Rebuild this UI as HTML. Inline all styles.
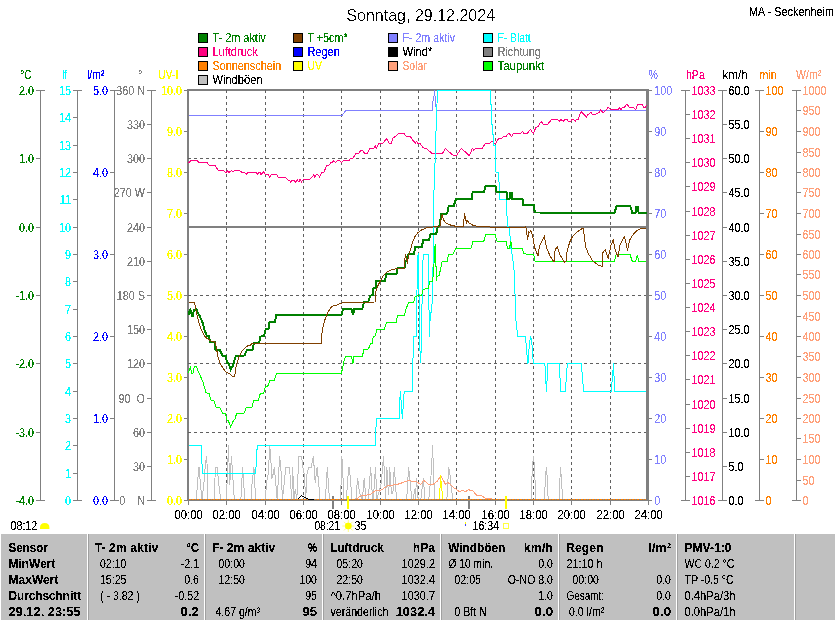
<!DOCTYPE html>
<html lang="de"><head><meta charset="utf-8"><title>Sonntag, 29.12.2024 - MA - Seckenheim</title>
<style>html,body{margin:0;padding:0;background:#fff;overflow:hidden}svg{display:block;font-family:"Liberation Sans",sans-serif}.c{shape-rendering:crispEdges}</style></head><body>
<svg width="835" height="620" viewBox="0 0 835 620">
<rect width="835" height="620" fill="#fff"/>
<defs><filter id="t" filterUnits="userSpaceOnUse" x="0" y="0" width="835" height="620" color-interpolation-filters="sRGB"><feComponentTransfer><feFuncA type="discrete" tableValues="0 0 1 1 1"/></feComponentTransfer></filter><filter id="t2" filterUnits="userSpaceOnUse" x="0" y="0" width="835" height="30" color-interpolation-filters="sRGB"><feComponentTransfer><feFuncA type="discrete" tableValues="0 0 0 1 1"/></feComponentTransfer></filter></defs>
<g class="c">
<rect x="198" y="33" width="10" height="10" fill="#000"/>
<rect x="199" y="34" width="8" height="8" fill="#008000"/>
<rect x="198" y="47" width="10" height="10" fill="#000"/>
<rect x="199" y="48" width="8" height="8" fill="#ff0080"/>
<rect x="198" y="61" width="10" height="10" fill="#000"/>
<rect x="199" y="62" width="8" height="8" fill="#ff8000"/>
<rect x="198" y="75" width="10" height="10" fill="#000"/>
<rect x="199" y="76" width="8" height="8" fill="#c0c0c0"/>
<rect x="293" y="33" width="10" height="10" fill="#000"/>
<rect x="294" y="34" width="8" height="8" fill="#804000"/>
<rect x="293" y="47" width="10" height="10" fill="#000"/>
<rect x="294" y="48" width="8" height="8" fill="#0000ff"/>
<rect x="293" y="61" width="10" height="10" fill="#000"/>
<rect x="294" y="62" width="8" height="8" fill="#ffff00"/>
<rect x="388" y="33" width="10" height="10" fill="#000"/>
<rect x="389" y="34" width="8" height="8" fill="#8080ff"/>
<rect x="388" y="47" width="10" height="10" fill="#000"/>
<rect x="389" y="48" width="8" height="8" fill="#000000"/>
<rect x="388" y="61" width="10" height="10" fill="#000"/>
<rect x="389" y="62" width="8" height="8" fill="#ffa07a"/>
<rect x="483" y="33" width="10" height="10" fill="#000"/>
<rect x="484" y="34" width="8" height="8" fill="#00ffff"/>
<rect x="483" y="47" width="10" height="10" fill="#000"/>
<rect x="484" y="48" width="8" height="8" fill="#808080"/>
<rect x="483" y="61" width="10" height="10" fill="#000"/>
<rect x="484" y="62" width="8" height="8" fill="#00ff00"/>
</g>
<g class="c">
<rect x="40" y="90" width="1" height="411" fill="#808080"/>
<rect x="36" y="90" width="9" height="1" fill="#808080"/>
<rect x="36" y="158" width="5" height="1" fill="#808080"/>
<rect x="36" y="227" width="5" height="1" fill="#808080"/>
<rect x="36" y="295" width="5" height="1" fill="#808080"/>
<rect x="36" y="363" width="5" height="1" fill="#808080"/>
<rect x="36" y="432" width="5" height="1" fill="#808080"/>
<rect x="36" y="500" width="9" height="1" fill="#808080"/>
</g>
<g class="c">
<rect x="77" y="90" width="1" height="411" fill="#808080"/>
<rect x="73" y="90" width="9" height="1" fill="#808080"/>
<rect x="73" y="117" width="5" height="1" fill="#808080"/>
<rect x="73" y="145" width="5" height="1" fill="#808080"/>
<rect x="73" y="172" width="5" height="1" fill="#808080"/>
<rect x="73" y="199" width="5" height="1" fill="#808080"/>
<rect x="73" y="227" width="5" height="1" fill="#808080"/>
<rect x="73" y="254" width="5" height="1" fill="#808080"/>
<rect x="73" y="281" width="5" height="1" fill="#808080"/>
<rect x="73" y="309" width="5" height="1" fill="#808080"/>
<rect x="73" y="336" width="5" height="1" fill="#808080"/>
<rect x="73" y="363" width="5" height="1" fill="#808080"/>
<rect x="73" y="391" width="5" height="1" fill="#808080"/>
<rect x="73" y="418" width="5" height="1" fill="#808080"/>
<rect x="73" y="445" width="5" height="1" fill="#808080"/>
<rect x="73" y="473" width="5" height="1" fill="#808080"/>
<rect x="73" y="500" width="9" height="1" fill="#808080"/>
</g>
<g class="c">
<rect x="114" y="90" width="1" height="411" fill="#808080"/>
<rect x="110" y="90" width="9" height="1" fill="#808080"/>
<rect x="110" y="172" width="5" height="1" fill="#808080"/>
<rect x="110" y="254" width="5" height="1" fill="#808080"/>
<rect x="110" y="336" width="5" height="1" fill="#808080"/>
<rect x="110" y="418" width="5" height="1" fill="#808080"/>
<rect x="110" y="500" width="9" height="1" fill="#808080"/>
</g>
<g class="c">
<rect x="151" y="90" width="1" height="411" fill="#808080"/>
<rect x="147" y="90" width="9" height="1" fill="#808080"/>
<rect x="147" y="124" width="5" height="1" fill="#808080"/>
<rect x="147" y="158" width="5" height="1" fill="#808080"/>
<rect x="147" y="192" width="5" height="1" fill="#808080"/>
<rect x="147" y="227" width="5" height="1" fill="#808080"/>
<rect x="147" y="261" width="5" height="1" fill="#808080"/>
<rect x="147" y="295" width="5" height="1" fill="#808080"/>
<rect x="147" y="329" width="5" height="1" fill="#808080"/>
<rect x="147" y="363" width="5" height="1" fill="#808080"/>
<rect x="147" y="398" width="5" height="1" fill="#808080"/>
<rect x="147" y="432" width="5" height="1" fill="#808080"/>
<rect x="147" y="466" width="5" height="1" fill="#808080"/>
<rect x="147" y="500" width="9" height="1" fill="#808080"/>
</g>
<g class="c">
<rect x="685" y="90" width="1" height="411" fill="#808080"/>
<rect x="681" y="90" width="9" height="1" fill="#808080"/>
<rect x="685" y="114" width="5" height="1" fill="#808080"/>
<rect x="685" y="138" width="5" height="1" fill="#808080"/>
<rect x="685" y="162" width="5" height="1" fill="#808080"/>
<rect x="685" y="186" width="5" height="1" fill="#808080"/>
<rect x="685" y="211" width="5" height="1" fill="#808080"/>
<rect x="685" y="235" width="5" height="1" fill="#808080"/>
<rect x="685" y="259" width="5" height="1" fill="#808080"/>
<rect x="685" y="283" width="5" height="1" fill="#808080"/>
<rect x="685" y="307" width="5" height="1" fill="#808080"/>
<rect x="685" y="331" width="5" height="1" fill="#808080"/>
<rect x="685" y="355" width="5" height="1" fill="#808080"/>
<rect x="685" y="379" width="5" height="1" fill="#808080"/>
<rect x="685" y="404" width="5" height="1" fill="#808080"/>
<rect x="685" y="428" width="5" height="1" fill="#808080"/>
<rect x="685" y="452" width="5" height="1" fill="#808080"/>
<rect x="685" y="476" width="5" height="1" fill="#808080"/>
<rect x="681" y="500" width="9" height="1" fill="#808080"/>
</g>
<g class="c">
<rect x="722" y="90" width="1" height="411" fill="#808080"/>
<rect x="718" y="90" width="9" height="1" fill="#808080"/>
<rect x="722" y="124" width="5" height="1" fill="#808080"/>
<rect x="722" y="158" width="5" height="1" fill="#808080"/>
<rect x="722" y="192" width="5" height="1" fill="#808080"/>
<rect x="722" y="227" width="5" height="1" fill="#808080"/>
<rect x="722" y="261" width="5" height="1" fill="#808080"/>
<rect x="722" y="295" width="5" height="1" fill="#808080"/>
<rect x="722" y="329" width="5" height="1" fill="#808080"/>
<rect x="722" y="363" width="5" height="1" fill="#808080"/>
<rect x="722" y="398" width="5" height="1" fill="#808080"/>
<rect x="722" y="432" width="5" height="1" fill="#808080"/>
<rect x="722" y="466" width="5" height="1" fill="#808080"/>
<rect x="718" y="500" width="9" height="1" fill="#808080"/>
</g>
<g class="c">
<rect x="759" y="90" width="1" height="411" fill="#808080"/>
<rect x="755" y="90" width="9" height="1" fill="#808080"/>
<rect x="759" y="131" width="5" height="1" fill="#808080"/>
<rect x="759" y="172" width="5" height="1" fill="#808080"/>
<rect x="759" y="213" width="5" height="1" fill="#808080"/>
<rect x="759" y="254" width="5" height="1" fill="#808080"/>
<rect x="759" y="295" width="5" height="1" fill="#808080"/>
<rect x="759" y="336" width="5" height="1" fill="#808080"/>
<rect x="759" y="377" width="5" height="1" fill="#808080"/>
<rect x="759" y="418" width="5" height="1" fill="#808080"/>
<rect x="759" y="459" width="5" height="1" fill="#808080"/>
<rect x="755" y="500" width="9" height="1" fill="#808080"/>
</g>
<g class="c">
<rect x="796" y="90" width="1" height="411" fill="#808080"/>
<rect x="792" y="90" width="9" height="1" fill="#808080"/>
<rect x="796" y="110" width="5" height="1" fill="#808080"/>
<rect x="796" y="131" width="5" height="1" fill="#808080"/>
<rect x="796" y="152" width="5" height="1" fill="#808080"/>
<rect x="796" y="172" width="5" height="1" fill="#808080"/>
<rect x="796" y="192" width="5" height="1" fill="#808080"/>
<rect x="796" y="213" width="5" height="1" fill="#808080"/>
<rect x="796" y="234" width="5" height="1" fill="#808080"/>
<rect x="796" y="254" width="5" height="1" fill="#808080"/>
<rect x="796" y="274" width="5" height="1" fill="#808080"/>
<rect x="796" y="295" width="5" height="1" fill="#808080"/>
<rect x="796" y="316" width="5" height="1" fill="#808080"/>
<rect x="796" y="336" width="5" height="1" fill="#808080"/>
<rect x="796" y="356" width="5" height="1" fill="#808080"/>
<rect x="796" y="377" width="5" height="1" fill="#808080"/>
<rect x="796" y="398" width="5" height="1" fill="#808080"/>
<rect x="796" y="418" width="5" height="1" fill="#808080"/>
<rect x="796" y="438" width="5" height="1" fill="#808080"/>
<rect x="796" y="459" width="5" height="1" fill="#808080"/>
<rect x="796" y="480" width="5" height="1" fill="#808080"/>
<rect x="792" y="500" width="9" height="1" fill="#808080"/>
</g>
<g class="c">
<rect x="184" y="90" width="3" height="1" fill="#808080"/>
<rect x="649" y="90" width="3" height="1" fill="#808080"/>
<rect x="184" y="131" width="3" height="1" fill="#808080"/>
<rect x="649" y="131" width="3" height="1" fill="#808080"/>
<rect x="184" y="172" width="3" height="1" fill="#808080"/>
<rect x="649" y="172" width="3" height="1" fill="#808080"/>
<rect x="184" y="213" width="3" height="1" fill="#808080"/>
<rect x="649" y="213" width="3" height="1" fill="#808080"/>
<rect x="184" y="254" width="3" height="1" fill="#808080"/>
<rect x="649" y="254" width="3" height="1" fill="#808080"/>
<rect x="184" y="295" width="3" height="1" fill="#808080"/>
<rect x="649" y="295" width="3" height="1" fill="#808080"/>
<rect x="184" y="336" width="3" height="1" fill="#808080"/>
<rect x="649" y="336" width="3" height="1" fill="#808080"/>
<rect x="184" y="377" width="3" height="1" fill="#808080"/>
<rect x="649" y="377" width="3" height="1" fill="#808080"/>
<rect x="184" y="418" width="3" height="1" fill="#808080"/>
<rect x="649" y="418" width="3" height="1" fill="#808080"/>
<rect x="184" y="459" width="3" height="1" fill="#808080"/>
<rect x="649" y="459" width="3" height="1" fill="#808080"/>
<rect x="184" y="500" width="3" height="1" fill="#808080"/>
<rect x="649" y="500" width="3" height="1" fill="#808080"/>
</g>
<g class="c">
<rect x="187" y="89" width="2" height="412" fill="#808080"/>
<rect x="187" y="89" width="462" height="2" fill="#808080"/>
<rect x="646" y="89" width="3" height="412" fill="#808080"/>
</g>
<g class="c">
<line x1="226.5" y1="90" x2="226.5" y2="499" stroke="#606060" stroke-width="1" stroke-dasharray="3 3"/>
<line x1="265.5" y1="90" x2="265.5" y2="499" stroke="#606060" stroke-width="1" stroke-dasharray="3 3"/>
<line x1="303.5" y1="90" x2="303.5" y2="499" stroke="#606060" stroke-width="1" stroke-dasharray="3 3"/>
<line x1="341.5" y1="90" x2="341.5" y2="499" stroke="#606060" stroke-width="1" stroke-dasharray="3 3"/>
<line x1="380.5" y1="90" x2="380.5" y2="499" stroke="#606060" stroke-width="1" stroke-dasharray="3 3"/>
<line x1="418.5" y1="90" x2="418.5" y2="499" stroke="#606060" stroke-width="1" stroke-dasharray="3 3"/>
<line x1="456.5" y1="90" x2="456.5" y2="499" stroke="#606060" stroke-width="1" stroke-dasharray="3 3"/>
<line x1="495.5" y1="90" x2="495.5" y2="499" stroke="#606060" stroke-width="1" stroke-dasharray="3 3"/>
<line x1="533.5" y1="90" x2="533.5" y2="499" stroke="#606060" stroke-width="1" stroke-dasharray="3 3"/>
<line x1="571.5" y1="90" x2="571.5" y2="499" stroke="#606060" stroke-width="1" stroke-dasharray="3 3"/>
<line x1="610.5" y1="90" x2="610.5" y2="499" stroke="#606060" stroke-width="1" stroke-dasharray="3 3"/>
<line x1="188" y1="158.5" x2="646" y2="158.5" stroke="#606060" stroke-width="1" stroke-dasharray="3 3"/>
<line x1="188" y1="295.5" x2="646" y2="295.5" stroke="#606060" stroke-width="1" stroke-dasharray="3 3"/>
<line x1="188" y1="363.5" x2="646" y2="363.5" stroke="#606060" stroke-width="1" stroke-dasharray="3 3"/>
<line x1="188" y1="432.5" x2="646" y2="432.5" stroke="#606060" stroke-width="1" stroke-dasharray="3 3"/>
</g>
<g class="c" stroke-linejoin="miter">
<polyline points="189.0,499.5 196.3,499.5 198.8,467.0 199.5,467.0 200.2,483.0 202.1,499.5 203.9,483.0 205.3,465.6 206.5,456.0 206.8,456.0 207.5,480.0 207.8,499.5 214.0,499.5 215.5,467.0 217.2,467.0 218.7,483.0 220.6,499.5 226.4,499.5 228.5,445.3 229.7,485.0 231.4,456.0 232.2,468.0 234.3,499.5 240.9,499.5 242.6,467.0 244.8,499.5 251.0,499.5 252.0,484.0 253.9,467.0 254.7,483.0 255.7,499.5 265.6,499.5 266.3,483.0 268.5,473.0 269.6,445.3 270.6,454.0 271.8,478.7 272.8,475.8 274.3,467.0 277.2,499.5 279.6,456.0 280.8,467.0 282.5,499.5 285.9,467.0 289.5,467.0 291.7,499.5 292.7,467.0 293.9,499.5 295.3,489.0 296.8,499.5 298.9,456.0 301.5,456.0 302.9,467.0 304.1,473.0 305.8,499.5 306.5,476.0 308.7,467.0 311.3,467.0 313.4,456.0 314.5,473.0 315.2,483.0 317.1,467.0 319.6,493.0 320.0,499.5 325.4,499.5 327.3,467.0 329.0,493.0 329.8,499.5 340.6,499.5 341.8,456.0 342.8,468.5 343.5,499.5 346.4,499.5 348.6,467.0 349.3,467.0 351.5,493.0 352.0,499.5 355.9,499.5 357.6,478.0 359.5,493.0 362.4,499.5 364.2,478.0 366.0,499.5 368.2,499.5 370.7,467.0 372.6,499.5 373.3,499.5 375.5,467.0 376.9,499.5 381.3,483.0 383.5,456.0 384.9,483.0 385.6,499.5 386.8,467.0 388.5,494.7 388.8,493.0 389.7,467.0 391.4,493.0 392.9,493.0 394.3,467.0 396.5,499.5 406.7,499.5 408.6,467.0 410.3,483.0 411.8,499.5 413.2,499.5 414.7,489.0 415.4,499.5 416.5,478.0 417.6,493.0 418.2,499.5 420.8,499.5 423.4,478.0 424.9,499.5 428.8,499.5 431.0,475.8 432.1,456.0 432.4,445.3 433.1,460.0 434.6,499.5 446.9,499.5 448.7,467.0 449.8,473.0 451.3,489.0 453.0,499.5 531.5,499.5 532.2,467.0 533.6,456.0 534.4,467.0 535.5,490.0 535.8,499.5 544.2,499.5 546.3,467.0 547.7,483.0 548.1,499.5 559.0,499.5 560.5,467.0 561.6,483.0 562.7,499.5 646.0,499.5" fill="none" stroke="#c0c0c0" stroke-width="1" />
<polyline points="356.6,499.0 361.0,495.8 369.7,494.7 375.5,490.6 381.3,490.0 388.5,485.2 395.8,484.9 401.6,483.0 408.9,480.2 412.5,481.6 416.1,481.3 420.8,484.5 423.7,480.2 428.8,484.5 433.1,484.2 437.5,480.9 440.8,475.8 443.3,480.2 445.5,484.5 447.7,482.3 450.6,484.5 453.5,487.4 457.8,490.5 459.0,491.4 460.8,491.4 462.4,490.2 463.5,490.8 465.2,491.5 466.5,491.0 468.6,489.3 470.0,490.3 472.5,490.8 474.0,492.0 476.5,495.3 478.5,496.0 481.8,495.8 486.1,498.7 491.9,499.0" fill="none" stroke="#ffa07a" stroke-width="1" />
<rect x="189" y="226" width="457" height="2" fill="#808080"/>
<polyline points="188.5,115.5 342.0,115.5 345.7,110.5 432.4,110.5 433.1,99.5 434.2,95.0 434.6,90.5 435.3,99.5 436.3,110.5 646.0,110.5" fill="none" stroke="#8080ff" stroke-width="1" />
<polyline points="188.5,163.0 191.0,160.5 197.0,160.5 199.0,162.5 207.0,162.5 209.0,165.0 215.0,165.0 218.0,170.0 223.0,170.5 226.0,172.5 227.5,171.0 229.0,172.5 231.5,170.5 233.0,172.0 234.5,170.5 239.5,170.5 241.5,172.0 244.5,172.5 246.5,174.5 247.5,172.5 256.0,172.5 257.5,174.0 259.0,172.5 260.0,172.5 261.0,174.5 263.5,172.0 265.5,174.5 268.5,174.5 269.5,177.0 271.5,174.5 276.5,174.5 278.0,177.0 285.0,177.0 288.0,180.0 289.5,180.0 290.5,182.0 292.5,180.0 294.0,180.0 295.5,182.0 297.5,180.0 299.0,182.0 300.0,179.5 301.5,182.0 303.2,179.5 309.4,179.5 312.3,176.9 313.8,174.7 314.5,176.9 316.7,174.5 318.0,174.7 319.6,176.9 321.8,172.1 324.0,172.1 326.4,166.0 329.0,165.3 331.2,162.4 332.3,162.7 333.7,160.5 335.6,162.7 338.0,160.2 339.5,160.6 341.4,162.7 343.5,160.2 349.3,160.2 350.8,158.0 353.0,158.0 355.9,153.7 358.8,153.4 360.7,150.5 362.4,150.5 364.6,153.4 367.0,153.4 370.0,148.6 374.0,148.2 375.5,145.7 376.2,148.2 379.1,143.3 383.5,143.0 386.4,138.5 389.3,143.3 391.1,143.3 392.9,138.0 395.8,136.3 398.0,133.7 404.2,133.7 406.0,136.3 410.3,136.3 413.2,140.9 415.4,143.1 416.5,141.6 418.2,143.8 420.0,143.3 423.0,147.7 425.9,148.4 428.8,150.6 431.7,153.2 442.6,153.2 445.5,148.4 449.8,152.5 453.5,155.7 456.4,155.7 461.2,148.4 465.1,151.8 469.4,155.7 472.3,148.4 473.8,150.3 476.0,148.4 482.0,148.4 485.4,143.5 489.7,143.5 491.9,140.9 494.1,143.0 495.5,143.8 498.5,138.7 501.4,138.4 503.8,136.1 506.4,136.1 508.6,133.3 510.0,134.5 511.5,136.5 513.4,133.6 521.0,133.2 522.7,131.2 523.6,133.2 527.5,133.2 530.4,129.3 533.2,133.6 535.8,127.8 538.0,126.4 541.3,121.3 543.0,124.2 547.4,124.5 551.8,119.4 557.6,119.4 559.8,121.3 560.8,119.4 563.4,121.3 564.8,119.4 567.0,119.4 568.5,121.3 570.6,121.6 571.8,119.4 573.5,119.4 575.3,121.3 576.4,119.4 578.2,119.4 580.1,113.3 581.5,112.1 584.4,114.8 586.6,117.2 587.8,114.8 590.7,112.3 592.7,114.5 595.3,114.5 599.7,111.9 600.7,109.7 602.6,112.3 604.0,112.0 608.4,107.2 610.6,109.7 618.2,109.7 619.3,107.5 621.1,109.7 622.2,107.5 624.3,107.2 627.0,104.2 629.4,107.2 633.8,107.5 635.7,109.7 637.4,104.6 642.0,104.3 643.9,107.2 645.4,107.2 646.5,105.3" fill="none" stroke="#ff0080" stroke-width="1" />
<polyline points="188.5,445.5 201.3,445.5 201.7,459.8 202.7,473.5 255.7,473.5 256.1,465.6 256.8,451.0 257.6,445.5 375.2,445.5 376.4,418.5 399.5,418.5 399.5,405.4 400.4,391.5 401.8,411.6 402.3,418.5 402.9,411.6 403.5,398.0 404.3,391.5 412.5,391.5 412.9,363.5 413.5,336.5 416.1,336.5 416.5,315.3 417.3,275.4 418.1,252.9 418.9,281.9 419.4,336.0 420.5,363.2 421.2,349.0 421.8,316.8 422.5,275.4 423.2,254.5 428.3,254.5 428.7,293.5 429.5,336.8 430.2,315.3 431.9,309.5 432.7,275.4 433.7,250.0 433.7,207.0 434.3,175.0 435.3,157.6 435.8,131.4 436.8,130.0 437.0,104.0 437.5,90.5 490.5,90.5 490.5,103.9 491.5,104.6 491.9,124.2 492.6,125.6 493.4,143.0 493.7,145.2 495.5,145.2 496.0,172.0 498.0,172.4 498.7,175.0 499.9,199.5 506.5,199.5 507.0,216.1 507.5,226.3 509.4,227.7 510.9,248.0 511.6,251.0 513.2,262.0 514.7,276.1 515.4,315.3 516.8,328.4 517.8,336.5 525.5,336.5 527.1,356.4 528.0,363.5 529.4,342.9 530.6,336.5 531.9,342.9 533.3,363.5 544.9,363.5 546.4,391.5 548.0,363.5 559.4,363.5 560.6,391.5 565.4,391.5 567.3,363.5 581.3,363.5 583.6,391.5 611.2,391.5 613.6,363.5 614.5,391.5 646.0,391.5" fill="none" stroke="#00ffff" stroke-width="1" />
<rect x="437" y="90" width="54" height="1" fill="#00ffff"/>
<polyline points="188.5,373.1 190.5,366.6 191.5,373.1 193.0,373.1 194.4,366.6 196.6,366.6 198.0,371.0 199.5,373.9 203.1,382.6 206.0,392.7 209.0,393.5 211.1,400.3 214.0,400.7 215.8,407.0 219.8,407.2 222.7,413.3 225.3,413.8 227.1,420.3 228.5,421.0 230.7,427.1 232.9,421.8 235.1,418.9 236.5,413.8 244.2,413.0 246.2,407.5 252.0,407.0 253.5,400.7 258.3,400.3 260.2,393.8 263.7,393.0 265.5,386.5 268.0,385.9 269.9,380.8 274.3,380.1 276.4,373.6 341.4,373.3 342.8,367.1 344.3,359.8 345.7,356.2 351.1,356.2 352.2,359.8 353.0,363.5 354.0,356.2 362.4,356.2 363.9,349.7 368.5,348.9 370.4,343.6 372.3,343.1 373.3,336.6 375.5,335.9 376.5,329.6 384.5,329.1 386.4,322.6 396.1,322.1 397.5,316.0 404.4,315.3 405.8,309.5 408.7,302.2 413.8,302.0 415.2,296.2 421.8,295.3 423.2,289.2 428.3,288.5 429.8,281.9 432.2,281.2 433.5,275.0 434.8,246.0 435.6,245.0 436.3,281.2 437.0,276.9 439.2,275.4 442.1,261.6 447.2,261.3 448.6,254.6 453.0,254.1 455.9,248.3 471.4,248.0 472.6,241.5 483.9,241.0 485.6,234.5 495.5,234.2 496.5,241.0 506.1,241.5 507.5,248.0 509.4,248.3 510.9,241.5 511.9,248.0 522.5,248.3 523.5,253.9 533.7,254.3 535.1,261.1 614.4,261.3 616.2,254.7 630.1,254.7 632.3,261.3 635.6,261.3 637.4,254.7 638.6,261.3 646.0,261.3" fill="none" stroke="#00ff00" stroke-width="1" />
<polyline points="188.5,315.0 189.3,312.0 190.2,309.8 191.0,312.0 191.8,315.5 193.0,315.5 193.8,310.5 195.0,309.8 196.5,309.5 197.5,312.0 199.5,315.6 202.4,322.1 204.6,330.0 206.8,335.9 209.0,335.9 210.0,342.4 214.8,342.4 215.5,350.0 219.8,350.0 222.4,355.5 225.6,355.5 227.0,362.7 228.5,363.5 230.7,369.5 232.9,365.6 235.8,356.2 244.5,355.5 246.7,350.4 252.5,349.7 253.9,343.4 259.0,343.1 260.5,336.6 264.1,335.9 265.6,329.3 268.5,328.6 269.5,322.5 275.0,321.8 276.4,315.1 341.4,314.9 343.1,308.8 351.5,308.8 353.0,314.9 354.4,308.8 362.4,308.8 363.9,302.2 368.2,302.0 370.4,295.7 372.6,295.0 373.3,288.5 375.5,288.0 376.2,281.2 384.9,280.8 386.4,274.4 396.5,274.0 397.5,268.1 404.5,267.7 405.7,261.0 406.5,261.0 408.0,254.5 413.8,254.2 415.2,247.1 421.8,247.0 423.2,240.3 429.0,240.3 430.5,233.8 436.3,233.6 437.7,227.2 439.2,226.5 441.4,214.2 447.2,213.5 448.6,206.2 453.7,206.0 455.9,199.3 471.8,199.2 472.6,192.4 483.9,192.3 485.6,185.9 495.5,185.7 496.5,191.7 506.5,192.0 507.3,198.7 509.6,198.7 510.4,193.0 511.6,193.0 511.9,198.5 522.5,198.5 523.2,205.2 533.7,205.2 534.8,212.5 614.4,212.7 616.8,205.7 630.1,205.7 632.3,212.7 635.6,212.7 636.4,206.9 638.0,206.9 638.6,212.7 646.5,212.7" fill="none" stroke="#008000" stroke-width="2" />
<polyline points="188.5,302.5 194.4,302.5 195.9,309.0 197.3,316.3 199.5,325.0 201.7,330.8 204.6,335.9 207.5,338.8 211.1,341.0 214.8,341.7 216.2,346.8 217.7,355.5 219.8,362.7 222.7,367.8 226.4,372.4 230.0,373.9 232.2,376.0 234.3,376.5 235.1,373.9 235.8,368.0 236.5,364.2 238.7,357.6 241.6,351.8 244.5,348.2 247.4,346.0 250.3,345.3 252.0,343.4 321.5,343.4 321.8,335.2 322.5,328.4 325.4,318.2 328.3,311.7 331.2,307.3 334.1,305.2 337.0,305.2 339.9,303.4 346.4,302.2 375.5,302.0 375.8,292.1 377.6,286.3 380.6,280.5 383.5,275.4 386.4,272.5 390.7,270.0 396.5,268.6 404.5,268.1 404.8,260.2 405.5,254.1 406.5,259.2 407.5,263.5 408.4,256.3 410.2,250.5 412.3,243.2 414.5,237.4 417.4,233.1 421.8,229.9 426.1,228.0 433.4,227.0 439.9,226.5 440.6,222.9 442.1,214.2 443.5,220.0 446.4,223.6 450.8,225.1 456.6,226.5 463.1,226.5 463.9,220.0 464.6,213.0 465.3,218.5 466.5,222.2 467.1,220.3 468.9,222.9 472.6,225.1 478.4,226.5 489.5,226.5 490.5,227.5 525.3,227.5 525.8,226.5 526.8,233.5 527.6,240.0 528.7,232.0 529.8,232.8 530.8,230.6 532.7,236.4 534.8,248.0 538.0,256.0 539.5,245.9 544.3,236.4 546.7,248.0 550.1,256.0 554.0,262.1 555.2,249.5 557.3,246.6 559.5,253.9 564.6,262.6 566.0,261.1 567.1,251.0 569.7,242.2 572.6,236.4 576.9,232.1 583.0,228.0 583.9,233.5 585.6,246.6 588.5,253.9 592.9,261.1 598.7,265.5 602.3,266.2 603.0,252.4 605.2,249.5 608.1,258.2 611.0,245.2 613.2,240.0 615.0,249.3 618.0,257.1 619.9,245.6 624.1,236.6 625.9,242.0 627.5,250.5 629.5,240.2 632.6,235.3 636.2,231.1 640.4,228.9 645.9,228.1" fill="none" stroke="#804000" stroke-width="1" />
<polyline points="297.5,499.5 300.0,496.8 301.5,495.4 303.6,497.0 306.5,498.3 309.4,499.5 313.8,499.5" fill="none" stroke="#000000" stroke-width="1" />
<polyline points="439.5,499.0 439.5,489.0 440.5,487.0 440.5,475.5 441.5,487.0 441.5,490.0 442.5,492.0 442.5,499.0" fill="none" stroke="#ffff00" stroke-width="1" />
</g>
<g class="c">
<rect x="187" y="499" width="462" height="2" fill="#808080"/>
<line x1="189" y1="499.5" x2="646" y2="499.5" stroke="#ff8000" stroke-width="1" stroke-dasharray="2 1 2 1 1 1"/>
<rect x="308" y="499" width="6" height="1" fill="#000000"/>
<rect x="188" y="501" width="1" height="4" fill="#808080"/>
<rect x="226" y="501" width="1" height="4" fill="#808080"/>
<rect x="265" y="501" width="1" height="4" fill="#808080"/>
<rect x="303" y="501" width="1" height="4" fill="#808080"/>
<rect x="341" y="501" width="1" height="4" fill="#808080"/>
<rect x="380" y="501" width="1" height="4" fill="#808080"/>
<rect x="418" y="501" width="1" height="4" fill="#808080"/>
<rect x="456" y="501" width="1" height="4" fill="#808080"/>
<rect x="495" y="501" width="1" height="4" fill="#808080"/>
<rect x="533" y="501" width="1" height="4" fill="#808080"/>
<rect x="571" y="501" width="1" height="4" fill="#808080"/>
<rect x="610" y="501" width="1" height="4" fill="#808080"/>
<rect x="648" y="501" width="1" height="4" fill="#808080"/>
<rect x="332" y="496" width="2" height="13" fill="#808080"/>
<rect x="332" y="499" width="2" height="1" fill="#ff8000"/>
<rect x="347" y="496" width="2" height="13" fill="#ffff00"/>
<rect x="468" y="496" width="2" height="13" fill="#808080"/>
<rect x="468" y="499" width="2" height="1" fill="#ff8000"/>
<rect x="505" y="496" width="2" height="13" fill="#ffff00"/>
</g>
<path d="M40,529 L40,527.5 Q40,523 44.7,523 Q49.4,523 49.4,527.5 L49.4,529 Z" fill="#ffff00"/>
<circle cx="348.3" cy="526" r="3.2" fill="#ffff00"/>
<g stroke="#ffff80" stroke-width="1"><path d="M348.3,520v12M342.3,526h12M344,521.8l8.6,8.6M352.6,521.8l-8.6,8.6"/></g>
<circle cx="348.3" cy="526" r="3.2" fill="#ffff00"/>
<rect class="c" x="503.5" y="523.5" width="5" height="5" rx="1" fill="none" stroke="#ffff40" stroke-width="1"/>
<rect class="c" x="465" y="522" width="1" height="2" fill="#ffff00"/><rect class="c" x="465" y="524" width="1" height="2" fill="#4040ff"/>
<g class="c">
<rect x="1" y="534" width="834" height="86" fill="#c0c0c0"/>
<rect x="87" y="534" width="1" height="86" fill="#ffffff"/>
<rect x="88" y="534" width="1" height="86" fill="#a0a0a0"/>
<rect x="204" y="534" width="1" height="86" fill="#ffffff"/>
<rect x="205" y="534" width="1" height="86" fill="#a0a0a0"/>
<rect x="322" y="534" width="1" height="86" fill="#ffffff"/>
<rect x="323" y="534" width="1" height="86" fill="#a0a0a0"/>
<rect x="440" y="534" width="1" height="86" fill="#ffffff"/>
<rect x="441" y="534" width="1" height="86" fill="#a0a0a0"/>
<rect x="558" y="534" width="1" height="86" fill="#ffffff"/>
<rect x="559" y="534" width="1" height="86" fill="#a0a0a0"/>
<rect x="676" y="534" width="1" height="86" fill="#ffffff"/>
<rect x="677" y="534" width="1" height="86" fill="#a0a0a0"/>
<rect x="794" y="534" width="1" height="86" fill="#ffffff"/>
<rect x="795" y="534" width="1" height="86" fill="#a0a0a0"/>
</g>
<g filter="url(#t2)"><text transform="translate(420.70,21.00) scale(0.943,1)" fill="#000" font-size="17" text-anchor="middle">Sonntag, 29.12.2024</text></g>
<g filter="url(#t)">
<text transform="translate(834.00,16.00) scale(0.905,1)" fill="#000" font-size="12" text-anchor="end">MA - Seckenheim</text>
<text transform="translate(212.40,42.00) scale(0.910,1)" fill="#008000" font-size="12">T- 2m aktiv</text>
<text transform="translate(212.40,56.00) scale(0.922,1)" fill="#ff0080" font-size="12">Luftdruck</text>
<text transform="translate(212.40,70.00) scale(0.906,1)" fill="#ff8000" font-size="12">Sonnenschein</text>
<text transform="translate(212.40,84.00) scale(0.929,1)" fill="#000" font-size="12">Windböen</text>
<text transform="translate(307.40,42.00) scale(0.902,1)" fill="#008000" font-size="12">T +5cm*</text>
<text transform="translate(307.40,56.00) scale(0.919,1)" fill="#0000ff" font-size="12">Regen</text>
<text transform="translate(307.40,70.00) scale(0.876,1)" fill="#ffff00" font-size="12">UV</text>
<text transform="translate(402.40,42.00) scale(0.890,1)" fill="#8080ff" font-size="12">F- 2m aktiv</text>
<text transform="translate(402.40,56.00) scale(0.940,1)" fill="#000" font-size="12">Wind*</text>
<text transform="translate(402.40,70.00) scale(0.867,1)" fill="#ffa07a" font-size="12">Solar</text>
<text transform="translate(497.40,42.00) scale(0.861,1)" fill="#00ffff" font-size="12">F- Blatt</text>
<text transform="translate(497.40,56.00) scale(0.919,1)" fill="#808080" font-size="12">Richtung</text>
<text transform="translate(497.40,70.00) scale(0.959,1)" fill="#008000" font-size="12">Taupunkt</text>
<text transform="translate(34.00,95.00) scale(0.900,1)" fill="#008000" font-size="12" text-anchor="end">2.0</text>
<text transform="translate(34.00,163.00) scale(0.900,1)" fill="#008000" font-size="12" text-anchor="end">1.0</text>
<text transform="translate(34.00,232.00) scale(0.900,1)" fill="#008000" font-size="12" text-anchor="end">0.0</text>
<text transform="translate(34.00,300.00) scale(0.900,1)" fill="#008000" font-size="12" text-anchor="end">-1.0</text>
<text transform="translate(34.00,368.00) scale(0.900,1)" fill="#008000" font-size="12" text-anchor="end">-2.0</text>
<text transform="translate(34.00,437.00) scale(0.900,1)" fill="#008000" font-size="12" text-anchor="end">-3.0</text>
<text transform="translate(34.00,505.00) scale(0.900,1)" fill="#008000" font-size="12" text-anchor="end">-4.0</text>
<text transform="translate(20.00,79.00) scale(0.880,1)" fill="#008000" font-size="12">°C</text>
<text transform="translate(71.00,95.00) scale(0.900,1)" fill="#00ffff" font-size="12" text-anchor="end">15</text>
<text transform="translate(71.00,122.00) scale(0.900,1)" fill="#00ffff" font-size="12" text-anchor="end">14</text>
<text transform="translate(71.00,150.00) scale(0.900,1)" fill="#00ffff" font-size="12" text-anchor="end">13</text>
<text transform="translate(71.00,177.00) scale(0.900,1)" fill="#00ffff" font-size="12" text-anchor="end">12</text>
<text transform="translate(71.00,204.00) scale(0.900,1)" fill="#00ffff" font-size="12" text-anchor="end">11</text>
<text transform="translate(71.00,232.00) scale(0.900,1)" fill="#00ffff" font-size="12" text-anchor="end">10</text>
<text transform="translate(71.00,259.00) scale(0.900,1)" fill="#00ffff" font-size="12" text-anchor="end">9</text>
<text transform="translate(71.00,286.00) scale(0.900,1)" fill="#00ffff" font-size="12" text-anchor="end">8</text>
<text transform="translate(71.00,314.00) scale(0.900,1)" fill="#00ffff" font-size="12" text-anchor="end">7</text>
<text transform="translate(71.00,341.00) scale(0.900,1)" fill="#00ffff" font-size="12" text-anchor="end">6</text>
<text transform="translate(71.00,368.00) scale(0.900,1)" fill="#00ffff" font-size="12" text-anchor="end">5</text>
<text transform="translate(71.00,396.00) scale(0.900,1)" fill="#00ffff" font-size="12" text-anchor="end">4</text>
<text transform="translate(71.00,423.00) scale(0.900,1)" fill="#00ffff" font-size="12" text-anchor="end">3</text>
<text transform="translate(71.00,450.00) scale(0.900,1)" fill="#00ffff" font-size="12" text-anchor="end">2</text>
<text transform="translate(71.00,478.00) scale(0.900,1)" fill="#00ffff" font-size="12" text-anchor="end">1</text>
<text transform="translate(71.00,505.00) scale(0.900,1)" fill="#00ffff" font-size="12" text-anchor="end">0</text>
<text transform="translate(62.00,79.00) scale(0.880,1)" fill="#00ffff" font-size="12">lf</text>
<text transform="translate(108.00,95.00) scale(0.900,1)" fill="#0000ff" font-size="12" text-anchor="end">5.0</text>
<text transform="translate(108.00,177.00) scale(0.900,1)" fill="#0000ff" font-size="12" text-anchor="end">4.0</text>
<text transform="translate(108.00,259.00) scale(0.900,1)" fill="#0000ff" font-size="12" text-anchor="end">3.0</text>
<text transform="translate(108.00,341.00) scale(0.900,1)" fill="#0000ff" font-size="12" text-anchor="end">2.0</text>
<text transform="translate(108.00,423.00) scale(0.900,1)" fill="#0000ff" font-size="12" text-anchor="end">1.0</text>
<text transform="translate(108.00,505.00) scale(0.900,1)" fill="#0000ff" font-size="12" text-anchor="end">0.0</text>
<text transform="translate(87.00,79.00) scale(0.880,1)" fill="#0000ff" font-size="12">l/m²</text>
<text transform="translate(145.00,95.00) scale(0.900,1)" fill="#808080" font-size="12" text-anchor="end">360 N</text>
<text transform="translate(145.00,129.00) scale(0.900,1)" fill="#808080" font-size="12" text-anchor="end">330</text>
<text transform="translate(145.00,163.00) scale(0.900,1)" fill="#808080" font-size="12" text-anchor="end">300</text>
<text transform="translate(145.00,197.00) scale(0.900,1)" fill="#808080" font-size="12" text-anchor="end">270 W</text>
<text transform="translate(145.00,232.00) scale(0.900,1)" fill="#808080" font-size="12" text-anchor="end">240</text>
<text transform="translate(145.00,266.00) scale(0.900,1)" fill="#808080" font-size="12" text-anchor="end">210</text>
<text transform="translate(145.00,300.00) scale(0.900,1)" fill="#808080" font-size="12" text-anchor="end">180 S</text>
<text transform="translate(145.00,334.00) scale(0.900,1)" fill="#808080" font-size="12" text-anchor="end">150</text>
<text transform="translate(145.00,368.00) scale(0.900,1)" fill="#808080" font-size="12" text-anchor="end">120</text>
<text transform="translate(145.00,403.00) scale(0.900,1)" fill="#808080" font-size="12" text-anchor="end">90  O</text>
<text transform="translate(145.00,437.00) scale(0.900,1)" fill="#808080" font-size="12" text-anchor="end">60</text>
<text transform="translate(145.00,471.00) scale(0.900,1)" fill="#808080" font-size="12" text-anchor="end">30</text>
<text transform="translate(145.00,505.00) scale(0.900,1)" fill="#808080" font-size="12" text-anchor="end">0    N</text>
<text transform="translate(138.00,79.00) scale(0.880,1)" fill="#808080" font-size="12">°</text>
<text transform="translate(691.50,95.00) scale(0.900,1)" fill="#ff0080" font-size="12">1033</text>
<text transform="translate(691.50,119.00) scale(0.900,1)" fill="#ff0080" font-size="12">1032</text>
<text transform="translate(691.50,143.00) scale(0.900,1)" fill="#ff0080" font-size="12">1031</text>
<text transform="translate(691.50,167.00) scale(0.900,1)" fill="#ff0080" font-size="12">1030</text>
<text transform="translate(691.50,191.00) scale(0.900,1)" fill="#ff0080" font-size="12">1029</text>
<text transform="translate(691.50,216.00) scale(0.900,1)" fill="#ff0080" font-size="12">1028</text>
<text transform="translate(691.50,240.00) scale(0.900,1)" fill="#ff0080" font-size="12">1027</text>
<text transform="translate(691.50,264.00) scale(0.900,1)" fill="#ff0080" font-size="12">1026</text>
<text transform="translate(691.50,288.00) scale(0.900,1)" fill="#ff0080" font-size="12">1025</text>
<text transform="translate(691.50,312.00) scale(0.900,1)" fill="#ff0080" font-size="12">1024</text>
<text transform="translate(691.50,336.00) scale(0.900,1)" fill="#ff0080" font-size="12">1023</text>
<text transform="translate(691.50,360.00) scale(0.900,1)" fill="#ff0080" font-size="12">1022</text>
<text transform="translate(691.50,384.00) scale(0.900,1)" fill="#ff0080" font-size="12">1021</text>
<text transform="translate(691.50,409.00) scale(0.900,1)" fill="#ff0080" font-size="12">1020</text>
<text transform="translate(691.50,433.00) scale(0.900,1)" fill="#ff0080" font-size="12">1019</text>
<text transform="translate(691.50,457.00) scale(0.900,1)" fill="#ff0080" font-size="12">1018</text>
<text transform="translate(691.50,481.00) scale(0.900,1)" fill="#ff0080" font-size="12">1017</text>
<text transform="translate(691.50,505.00) scale(0.900,1)" fill="#ff0080" font-size="12">1016</text>
<text transform="translate(686.00,79.00) scale(0.880,1)" fill="#ff0080" font-size="12">hPa</text>
<text transform="translate(728.50,95.00) scale(0.900,1)" fill="#000000" font-size="12">60.0</text>
<text transform="translate(728.50,129.00) scale(0.900,1)" fill="#000000" font-size="12">55.0</text>
<text transform="translate(728.50,163.00) scale(0.900,1)" fill="#000000" font-size="12">50.0</text>
<text transform="translate(728.50,197.00) scale(0.900,1)" fill="#000000" font-size="12">45.0</text>
<text transform="translate(728.50,232.00) scale(0.900,1)" fill="#000000" font-size="12">40.0</text>
<text transform="translate(728.50,266.00) scale(0.900,1)" fill="#000000" font-size="12">35.0</text>
<text transform="translate(728.50,300.00) scale(0.900,1)" fill="#000000" font-size="12">30.0</text>
<text transform="translate(728.50,334.00) scale(0.900,1)" fill="#000000" font-size="12">25.0</text>
<text transform="translate(728.50,368.00) scale(0.900,1)" fill="#000000" font-size="12">20.0</text>
<text transform="translate(728.50,403.00) scale(0.900,1)" fill="#000000" font-size="12">15.0</text>
<text transform="translate(728.50,437.00) scale(0.900,1)" fill="#000000" font-size="12">10.0</text>
<text transform="translate(728.50,471.00) scale(0.900,1)" fill="#000000" font-size="12">5.0</text>
<text transform="translate(728.50,505.00) scale(0.900,1)" fill="#000000" font-size="12">0.0</text>
<text transform="translate(722.50,79.00) scale(0.973,1)" fill="#000000" font-size="12">km/h</text>
<text transform="translate(765.50,95.00) scale(0.900,1)" fill="#ff8000" font-size="12">100</text>
<text transform="translate(765.50,136.00) scale(0.900,1)" fill="#ff8000" font-size="12">90</text>
<text transform="translate(765.50,177.00) scale(0.900,1)" fill="#ff8000" font-size="12">80</text>
<text transform="translate(765.50,218.00) scale(0.900,1)" fill="#ff8000" font-size="12">70</text>
<text transform="translate(765.50,259.00) scale(0.900,1)" fill="#ff8000" font-size="12">60</text>
<text transform="translate(765.50,300.00) scale(0.900,1)" fill="#ff8000" font-size="12">50</text>
<text transform="translate(765.50,341.00) scale(0.900,1)" fill="#ff8000" font-size="12">40</text>
<text transform="translate(765.50,382.00) scale(0.900,1)" fill="#ff8000" font-size="12">30</text>
<text transform="translate(765.50,423.00) scale(0.900,1)" fill="#ff8000" font-size="12">20</text>
<text transform="translate(765.50,464.00) scale(0.900,1)" fill="#ff8000" font-size="12">10</text>
<text transform="translate(765.50,505.00) scale(0.900,1)" fill="#ff8000" font-size="12">0</text>
<text transform="translate(759.50,79.00) scale(0.880,1)" fill="#ff8000" font-size="12">min</text>
<text transform="translate(802.50,95.00) scale(0.900,1)" fill="#ffa07a" font-size="12">1000</text>
<text transform="translate(802.50,115.00) scale(0.900,1)" fill="#ffa07a" font-size="12">950</text>
<text transform="translate(802.50,136.00) scale(0.900,1)" fill="#ffa07a" font-size="12">900</text>
<text transform="translate(802.50,157.00) scale(0.900,1)" fill="#ffa07a" font-size="12">850</text>
<text transform="translate(802.50,177.00) scale(0.900,1)" fill="#ffa07a" font-size="12">800</text>
<text transform="translate(802.50,197.00) scale(0.900,1)" fill="#ffa07a" font-size="12">750</text>
<text transform="translate(802.50,218.00) scale(0.900,1)" fill="#ffa07a" font-size="12">700</text>
<text transform="translate(802.50,239.00) scale(0.900,1)" fill="#ffa07a" font-size="12">650</text>
<text transform="translate(802.50,259.00) scale(0.900,1)" fill="#ffa07a" font-size="12">600</text>
<text transform="translate(802.50,279.00) scale(0.900,1)" fill="#ffa07a" font-size="12">550</text>
<text transform="translate(802.50,300.00) scale(0.900,1)" fill="#ffa07a" font-size="12">500</text>
<text transform="translate(802.50,321.00) scale(0.900,1)" fill="#ffa07a" font-size="12">450</text>
<text transform="translate(802.50,341.00) scale(0.900,1)" fill="#ffa07a" font-size="12">400</text>
<text transform="translate(802.50,361.00) scale(0.900,1)" fill="#ffa07a" font-size="12">350</text>
<text transform="translate(802.50,382.00) scale(0.900,1)" fill="#ffa07a" font-size="12">300</text>
<text transform="translate(802.50,403.00) scale(0.900,1)" fill="#ffa07a" font-size="12">250</text>
<text transform="translate(802.50,423.00) scale(0.900,1)" fill="#ffa07a" font-size="12">200</text>
<text transform="translate(802.50,443.00) scale(0.900,1)" fill="#ffa07a" font-size="12">150</text>
<text transform="translate(802.50,464.00) scale(0.900,1)" fill="#ffa07a" font-size="12">100</text>
<text transform="translate(802.50,485.00) scale(0.900,1)" fill="#ffa07a" font-size="12">50</text>
<text transform="translate(802.50,505.00) scale(0.900,1)" fill="#ffa07a" font-size="12">0</text>
<text transform="translate(796.00,79.00) scale(0.880,1)" fill="#ffa07a" font-size="12">W/m²</text>
<text transform="translate(182.00,95.00) scale(0.900,1)" fill="#ffff00" font-size="12" text-anchor="end">10.0</text>
<text transform="translate(654.20,95.00) scale(0.900,1)" fill="#8080ff" font-size="12">100</text>
<text transform="translate(182.00,136.00) scale(0.900,1)" fill="#ffff00" font-size="12" text-anchor="end">9.0</text>
<text transform="translate(654.20,136.00) scale(0.900,1)" fill="#8080ff" font-size="12">90</text>
<text transform="translate(182.00,177.00) scale(0.900,1)" fill="#ffff00" font-size="12" text-anchor="end">8.0</text>
<text transform="translate(654.20,177.00) scale(0.900,1)" fill="#8080ff" font-size="12">80</text>
<text transform="translate(182.00,218.00) scale(0.900,1)" fill="#ffff00" font-size="12" text-anchor="end">7.0</text>
<text transform="translate(654.20,218.00) scale(0.900,1)" fill="#8080ff" font-size="12">70</text>
<text transform="translate(182.00,259.00) scale(0.900,1)" fill="#ffff00" font-size="12" text-anchor="end">6.0</text>
<text transform="translate(654.20,259.00) scale(0.900,1)" fill="#8080ff" font-size="12">60</text>
<text transform="translate(182.00,300.00) scale(0.900,1)" fill="#ffff00" font-size="12" text-anchor="end">5.0</text>
<text transform="translate(654.20,300.00) scale(0.900,1)" fill="#8080ff" font-size="12">50</text>
<text transform="translate(182.00,341.00) scale(0.900,1)" fill="#ffff00" font-size="12" text-anchor="end">4.0</text>
<text transform="translate(654.20,341.00) scale(0.900,1)" fill="#8080ff" font-size="12">40</text>
<text transform="translate(182.00,382.00) scale(0.900,1)" fill="#ffff00" font-size="12" text-anchor="end">3.0</text>
<text transform="translate(654.20,382.00) scale(0.900,1)" fill="#8080ff" font-size="12">30</text>
<text transform="translate(182.00,423.00) scale(0.900,1)" fill="#ffff00" font-size="12" text-anchor="end">2.0</text>
<text transform="translate(654.20,423.00) scale(0.900,1)" fill="#8080ff" font-size="12">20</text>
<text transform="translate(182.00,464.00) scale(0.900,1)" fill="#ffff00" font-size="12" text-anchor="end">1.0</text>
<text transform="translate(654.20,464.00) scale(0.900,1)" fill="#8080ff" font-size="12">10</text>
<text transform="translate(182.00,505.00) scale(0.900,1)" fill="#ffff00" font-size="12" text-anchor="end">0.0</text>
<text transform="translate(654.20,505.00) scale(0.900,1)" fill="#8080ff" font-size="12">0</text>
<text transform="translate(158.00,79.00) scale(0.880,1)" fill="#ffff00" font-size="12">UV-I</text>
<text transform="translate(648.50,79.00) scale(0.880,1)" fill="#8080ff" font-size="12">%</text>
<text transform="translate(188.70,519.00) scale(0.940,1)" fill="#000" font-size="12" text-anchor="middle">00:00</text>
<text transform="translate(226.70,519.00) scale(0.940,1)" fill="#000" font-size="12" text-anchor="middle">02:00</text>
<text transform="translate(265.70,519.00) scale(0.940,1)" fill="#000" font-size="12" text-anchor="middle">04:00</text>
<text transform="translate(303.70,519.00) scale(0.940,1)" fill="#000" font-size="12" text-anchor="middle">06:00</text>
<text transform="translate(341.70,519.00) scale(0.940,1)" fill="#000" font-size="12" text-anchor="middle">08:00</text>
<text transform="translate(380.70,519.00) scale(0.940,1)" fill="#000" font-size="12" text-anchor="middle">10:00</text>
<text transform="translate(418.70,519.00) scale(0.940,1)" fill="#000" font-size="12" text-anchor="middle">12:00</text>
<text transform="translate(456.70,519.00) scale(0.940,1)" fill="#000" font-size="12" text-anchor="middle">14:00</text>
<text transform="translate(495.70,519.00) scale(0.940,1)" fill="#000" font-size="12" text-anchor="middle">16:00</text>
<text transform="translate(533.70,519.00) scale(0.940,1)" fill="#000" font-size="12" text-anchor="middle">18:00</text>
<text transform="translate(571.70,519.00) scale(0.940,1)" fill="#000" font-size="12" text-anchor="middle">20:00</text>
<text transform="translate(610.70,519.00) scale(0.940,1)" fill="#000" font-size="12" text-anchor="middle">22:00</text>
<text transform="translate(648.70,519.00) scale(0.940,1)" fill="#000" font-size="12" text-anchor="middle">24:00</text>
<text transform="translate(10.60,530.00) scale(0.886,1)" fill="#000" font-size="12">08:12</text>
<text transform="translate(314.40,530.00) scale(0.853,1)" fill="#000" font-size="12">08:21</text>
<text transform="translate(354.50,530.00) scale(0.900,1)" fill="#000" font-size="12">35</text>
<text transform="translate(472.50,530.00) scale(0.886,1)" fill="#000" font-size="12">16:34</text>
<text transform="translate(8.50,552.00) scale(0.971,1)" fill="#000" font-size="12" font-weight="bold">Sensor</text>
<text transform="translate(8.50,568.00) scale(0.998,1)" fill="#000" font-size="12" font-weight="bold">MinWert</text>
<text transform="translate(8.50,584.00) scale(1.004,1)" fill="#000" font-size="12" font-weight="bold">MaxWert</text>
<text transform="translate(8.50,600.00) scale(0.982,1)" fill="#000" font-size="12" font-weight="bold">Durchschnitt</text>
<text transform="translate(8.50,616.00) scale(1.071,1)" fill="#000" font-size="12" font-weight="bold">29.12. 23:55</text>
<text transform="translate(94.80,552.00) scale(1.024,1)" fill="#000" font-size="12" font-weight="bold">T- 2m aktiv</text>
<text transform="translate(199.00,552.00) scale(0.936,1)" fill="#000" font-size="12" font-weight="bold" text-anchor="end">°C</text>
<text transform="translate(100.00,568.00) scale(0.880,1)" fill="#000" font-size="12">02:10</text>
<text transform="translate(199.00,568.00) scale(0.880,1)" fill="#000" font-size="12" text-anchor="end">-2.1</text>
<text transform="translate(100.00,584.00) scale(0.880,1)" fill="#000" font-size="12">15:25</text>
<text transform="translate(199.00,584.00) scale(0.880,1)" fill="#000" font-size="12" text-anchor="end">0.6</text>
<text transform="translate(100.00,600.00) scale(0.880,1)" fill="#000" font-size="12">( - 3.82 )</text>
<text transform="translate(199.00,600.00) scale(0.880,1)" fill="#000" font-size="12" text-anchor="end">-0.52</text>
<text transform="translate(199.00,616.00) scale(1.115,1)" fill="#000" font-size="12" font-weight="bold" text-anchor="end">0.2</text>
<text transform="translate(212.00,552.00) scale(1.011,1)" fill="#000" font-size="12" font-weight="bold">F- 2m aktiv</text>
<text transform="translate(317.00,552.00) scale(0.843,1)" fill="#000" font-size="12" font-weight="bold" text-anchor="end">%</text>
<text transform="translate(218.50,568.00) scale(0.880,1)" fill="#000" font-size="12">00:00</text>
<text transform="translate(317.00,568.00) scale(0.880,1)" fill="#000" font-size="12" text-anchor="end">94</text>
<text transform="translate(218.50,584.00) scale(0.880,1)" fill="#000" font-size="12">12:50</text>
<text transform="translate(317.00,584.00) scale(0.880,1)" fill="#000" font-size="12" text-anchor="end">100</text>
<text transform="translate(317.00,600.00) scale(0.880,1)" fill="#000" font-size="12" text-anchor="end">95</text>
<text transform="translate(215.50,616.00) scale(0.880,1)" fill="#000" font-size="12">4.67 g/m³</text>
<text transform="translate(317.00,616.00) scale(1.079,1)" fill="#000" font-size="12" font-weight="bold" text-anchor="end">95</text>
<text transform="translate(330.30,552.00) scale(0.969,1)" fill="#000" font-size="12" font-weight="bold">Luftdruck</text>
<text transform="translate(435.00,552.00) scale(1.009,1)" fill="#000" font-size="12" font-weight="bold" text-anchor="end">hPa</text>
<text transform="translate(336.50,568.00) scale(0.880,1)" fill="#000" font-size="12">05:20</text>
<text transform="translate(435.00,568.00) scale(0.910,1)" fill="#000" font-size="12" text-anchor="end">1029.2</text>
<text transform="translate(336.50,584.00) scale(0.880,1)" fill="#000" font-size="12">22:50</text>
<text transform="translate(435.00,584.00) scale(0.910,1)" fill="#000" font-size="12" text-anchor="end">1032.4</text>
<text transform="translate(330.50,600.00) scale(0.941,1)" fill="#000" font-size="12">^0.7hPa/h</text>
<text transform="translate(435.00,600.00) scale(0.910,1)" fill="#000" font-size="12" text-anchor="end">1030.7</text>
<text transform="translate(330.50,616.00) scale(0.887,1)" fill="#000" font-size="12">veränderlich</text>
<text transform="translate(435.00,616.00) scale(1.071,1)" fill="#000" font-size="12" font-weight="bold" text-anchor="end">1032.4</text>
<text transform="translate(448.20,552.00) scale(0.988,1)" fill="#000" font-size="12" font-weight="bold">Windböen</text>
<text transform="translate(553.00,552.00) scale(1.043,1)" fill="#000" font-size="12" font-weight="bold" text-anchor="end">km/h</text>
<text transform="translate(448.50,568.00) scale(0.855,1)" fill="#000" font-size="12">Ø 10 min.</text>
<text transform="translate(553.00,568.00) scale(0.880,1)" fill="#000" font-size="12" text-anchor="end">0.0</text>
<text transform="translate(454.50,584.00) scale(0.880,1)" fill="#000" font-size="12">02:05</text>
<text transform="translate(553.00,584.00) scale(0.880,1)" fill="#000" font-size="12" text-anchor="end">O-NO 8.0</text>
<text transform="translate(553.00,600.00) scale(0.880,1)" fill="#000" font-size="12" text-anchor="end">1.0</text>
<text transform="translate(454.50,616.00) scale(0.880,1)" fill="#000" font-size="12">0 Bft N</text>
<text transform="translate(553.00,616.00) scale(1.103,1)" fill="#000" font-size="12" font-weight="bold" text-anchor="end">0.0</text>
<text transform="translate(566.30,552.00) scale(1.009,1)" fill="#000" font-size="12" font-weight="bold">Regen</text>
<text transform="translate(671.00,552.00) scale(1.050,1)" fill="#000" font-size="12" font-weight="bold" text-anchor="end">l/m²</text>
<text transform="translate(566.50,568.00) scale(0.899,1)" fill="#000" font-size="12">21:10 h</text>
<text transform="translate(572.50,584.00) scale(0.880,1)" fill="#000" font-size="12">00:00</text>
<text transform="translate(671.00,584.00) scale(0.880,1)" fill="#000" font-size="12" text-anchor="end">0.0</text>
<text transform="translate(566.50,600.00) scale(0.827,1)" fill="#000" font-size="12">Gesamt:</text>
<text transform="translate(671.00,600.00) scale(0.880,1)" fill="#000" font-size="12" text-anchor="end">0.0</text>
<text transform="translate(569.00,616.00) scale(0.880,1)" fill="#000" font-size="12">0.0 l/m²</text>
<text transform="translate(671.00,616.00) scale(1.103,1)" fill="#000" font-size="12" font-weight="bold" text-anchor="end">0.0</text>
<text transform="translate(684.30,552.00) scale(1.013,1)" fill="#000" font-size="12" font-weight="bold">PMV-1:0</text>
<text transform="translate(684.50,568.00) scale(0.880,1)" fill="#000" font-size="12">WC 0.2 °C</text>
<text transform="translate(684.50,584.00) scale(0.880,1)" fill="#000" font-size="12">TP -0.5 °C</text>
<text transform="translate(684.50,600.00) scale(0.932,1)" fill="#000" font-size="12">0.4hPa/3h</text>
<text transform="translate(684.50,616.00) scale(0.932,1)" fill="#000" font-size="12">0.0hPa/1h</text>
</g>
</svg></body></html>
